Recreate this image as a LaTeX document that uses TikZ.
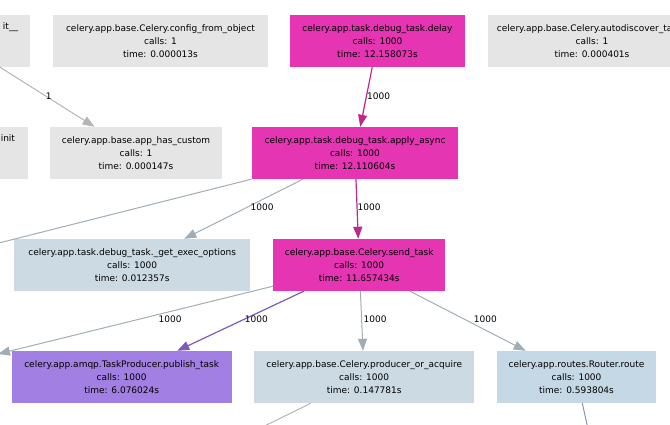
\documentclass[tikz,border=0pt]{standalone}
\usepackage{fontspec}
\setmainfont{DejaVu Sans}
\usetikzlibrary{arrows.meta}

\definecolor{idle}{HTML}{E5E5E5}
\definecolor{hot}{HTML}{E535B2}
\definecolor{warm}{HTML}{A27FE2}
\definecolor{cool}{HTML}{CBDAE3}
\definecolor{coolb}{HTML}{C5D8E6}
\definecolor{hotedge}{HTML}{BE288C}
\definecolor{warmedge}{HTML}{7D5ABE}
\definecolor{cooledge}{HTML}{A0ADB6}
\definecolor{idleedge}{HTML}{B4B4B4}
\definecolor{routeedge}{HTML}{8A94B8}

\begin{document}
\begin{tikzpicture}
    [x=1pt,y=-1pt,
     fn/.style={rectangle,inner sep=0pt,minimum height=52pt,align=center,font=\fontsize{9}{13}\selectfont},
     call/.style={->,>={Triangle[length=12pt,width=9pt]},line width=1pt},
     lbl/.style={anchor=west,inner sep=0pt,text=black,font=\fontsize{9}{11}\selectfont}]
    \useasboundingbox (0,0) rectangle (670,424);
    \clip (0,0) rectangle (670,424);
    % first row
    \node [fn,fill=idle,minimum width=60pt,text width=36pt,align=right] (init) at (0,41) {it\_\_\\\strut\\\strut};
    \node [fn,fill=idle,minimum width=215pt] (config) at (160.5,41) {celery.app.base.Celery.config\_from\_object\\calls: 1\\time: 0.000013s};
    \node [fn,fill=hot,minimum width=175pt] (delay) at (377.5,41) {celery.app.task.debug\_task.delay\\calls: 1000\\time: 12.158073s};
    \node [fn,fill=idle,minimum width=208pt] (discover) at (592,41) {celery.app.base.Celery.autodiscover\_tasks\\calls: 1\\time: 0.000401s};
    % second row
    \node [fn,fill=idle,minimum width=55.4pt,text width=30pt,align=right] (afterinit) at (0,153) {init\\\strut\\\strut};
    \node [fn,fill=idle,minimum width=172pt] (custom) at (136,153) {celery.app.base.app\_has\_custom\\calls: 1\\time: 0.000147s};
    \node [fn,fill=hot,minimum width=206.6pt] (apply) at (355,153) {celery.app.task.debug\_task.apply\_async\\calls: 1000\\time: 12.110604s};
    % third row
    \node [fn,fill=cool,minimum width=235.7pt] (options) at (132.2,265) {celery.app.task.debug\_task.\_get\_exec\_options\\calls: 1000\\time: 0.012357s};
    \node [fn,fill=hot,minimum width=171.7pt] (send) at (359.2,265) {celery.app.base.Celery.send\_task\\calls: 1000\\time: 11.657434s};
    % fourth row
    \node [fn,fill=warm,minimum width=220pt] (publish) at (121.7,377) {celery.app.amqp.TaskProducer.publish\_task\\calls: 1000\\time: 6.076024s};
    \node [fn,fill=cool,minimum width=219.7pt] (producer) at (364.2,377) {celery.app.base.Celery.producer\_or\_acquire\\calls: 1000\\time: 0.147781s};
    \node [fn,fill=coolb,minimum width=158.4pt] (router) at (576.5,377) {celery.app.routes.Router.route\\calls: 1000\\time: 0.593804s};
    % callees out of view
    \coordinate (offA) at (-100,268);
    \coordinate (offB) at (-2,354);
    \coordinate (offC) at (236,440);
    \coordinate (offD) at (592,447);
    % calls
    \draw [call,idleedge] (init.south) -- node[lbl,pos=0.48] {1} (custom);
    \draw [call,hotedge,line width=1.2pt] (delay) -- node[lbl,pos=0.48] {1000} (apply);
    \draw [call,hotedge,line width=1.2pt] (apply) -- node[lbl,pos=0.47] {1000} (send);
    \draw [call,cooledge] (apply) -- node[lbl,pos=0.47,xshift=3pt] {1000} (options);
    \draw [call,cooledge] (apply) -- (offA);
    \draw [call,cooledge] (send) -- node[lbl,pos=0.48,xshift=17pt] {1000} (offB);
    \draw [call,warmedge,line width=1.2pt] (send) -- node[lbl,pos=0.47] {1000} (publish);
    \draw [call,cooledge] (send) -- node[lbl,pos=0.47,xshift=1.5pt] {1000} (producer);
    \draw [call,cooledge] (send) -- node[lbl,pos=0.47,xshift=9pt] {1000} (router);
    \draw [call,idleedge] (producer) -- (offC);
    \draw [call,routeedge] (router) -- (offD);
\end{tikzpicture}
\end{document}
